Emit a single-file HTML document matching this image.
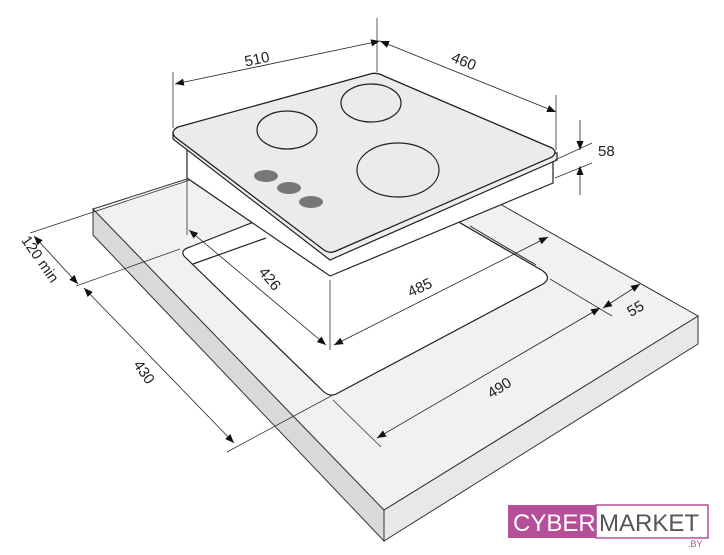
<!DOCTYPE html>
<html><head><meta charset="utf-8"><style>
html,body{margin:0;padding:0;background:#fff;width:724px;height:555px;overflow:hidden}
svg{display:block}
text{font-family:"Liberation Sans",sans-serif;font-size:15px;fill:#222}
</style></head><body>
<svg width="724" height="555" viewBox="0 0 724 555" xmlns="http://www.w3.org/2000/svg">
<defs>
<marker id="a" viewBox="0 0 10 10" refX="10" refY="5" markerWidth="9" markerHeight="9" orient="auto-start-reverse" markerUnits="userSpaceOnUse"><path d="M0,1 L10,5 L0,9z" fill="#111"/></marker>
</defs>
<!-- countertop -->
<polygon points="93,209 93,235 384,541 384,510" fill="#d9d9d9" stroke="#333" stroke-width="1"/>
<polygon points="384,510 384,541 698,344 698,316" fill="#e8e8e8" stroke="#333" stroke-width="1"/>
<polygon points="93,209 190,178 500,204 698,316 384,510" fill="#f1f1f1" stroke="#333" stroke-width="1"/>
<!-- cutout -->
<path d="M190,247 L376,174 L543,271 Q552,278 543,284 L338,393 Q330,398 323,391 L184,256 Q180,250 190,247z" fill="#fff" stroke="#222" stroke-width="1.2"/>
<line x1="193" y1="264" x2="266" y2="238" stroke="#222" stroke-width="1.2"/>
<line x1="470" y1="226" x2="536" y2="265" stroke="#222" stroke-width="1"/>
<!-- hob body -->
<polygon points="187,148 187,178 330,276 553,183 553,153" fill="#fff" stroke="#222" stroke-width="1.2"/>
<!-- hob glass -->
<path d="M173,132 L173,139 L330,260 L557,160 L557,153 z" fill="#eee" stroke="#222" stroke-width="1.2"/>
<path d="M178,127 L370,74 Q377,72 384,76 L552,148 Q558,152 552,157 L336,251 Q330,254 324,250 L175,137 Q170,131 178,127z" fill="#ebebeb" stroke="#222" stroke-width="1.3"/>
<ellipse cx="287" cy="130" rx="30" ry="19" fill="none" stroke="#222" stroke-width="1.2"/>
<ellipse cx="371" cy="103" rx="30" ry="19" fill="none" stroke="#222" stroke-width="1.2"/>
<ellipse cx="398" cy="170" rx="41" ry="27" fill="none" stroke="#222" stroke-width="1.2"/>
<ellipse cx="266" cy="176" rx="12" ry="6" fill="#777"/>
<ellipse cx="289" cy="188" rx="12" ry="6" fill="#777"/>
<ellipse cx="311" cy="202" rx="12" ry="6" fill="#777"/>
<!-- extension lines -->
<g stroke="#333" stroke-width="0.8" fill="none">
<line x1="173" y1="72" x2="173" y2="128"/>
<line x1="377" y1="18" x2="377" y2="72"/>
<line x1="556" y1="95" x2="556" y2="150"/>
<line x1="555" y1="160" x2="592" y2="143"/>
<line x1="555" y1="178" x2="592" y2="163"/>
<line x1="187" y1="178" x2="187" y2="235"/>
<line x1="330" y1="280" x2="330" y2="350"/>
<line x1="30" y1="233" x2="190" y2="180"/>
<line x1="76" y1="286" x2="180" y2="249"/>
<line x1="227" y1="452" x2="333" y2="395"/>
<line x1="333" y1="400" x2="381" y2="447"/>
<line x1="550" y1="279" x2="612" y2="316"/>
</g>
<!-- dimension lines -->
<g stroke="#222" stroke-width="0.8" marker-start="url(#a)" marker-end="url(#a)">
<line x1="175" y1="84" x2="380" y2="41"/>
<line x1="380" y1="41" x2="556" y2="112"/>
<line x1="34" y1="236" x2="78" y2="284"/>
<line x1="84" y1="288" x2="234" y2="443"/>
<line x1="189" y1="230" x2="326" y2="345"/>
<line x1="334" y1="345" x2="548" y2="237"/>
<line x1="377" y1="438" x2="600" y2="308"/>
<line x1="603" y1="308" x2="640" y2="284"/>
</g>
<g stroke="#222" stroke-width="0.8" marker-end="url(#a)">
<line x1="580" y1="120" x2="580" y2="150"/>
<line x1="580" y1="195" x2="580" y2="166"/>
</g>
<!-- labels -->
<text transform="translate(258,64) rotate(-12)" text-anchor="middle">510</text>
<text transform="translate(462,66) rotate(22)" text-anchor="middle">460</text>
<text x="598" y="156">58</text>
<text transform="translate(36,262) rotate(55)" text-anchor="middle">120 min</text>
<text transform="translate(140,375) rotate(55)" text-anchor="middle">430</text>
<text transform="translate(266,282) rotate(50)" text-anchor="middle">426</text>
<text transform="translate(422,292) rotate(-25)" text-anchor="middle">485</text>
<text transform="translate(502,392) rotate(-32)" text-anchor="middle">490</text>
<text transform="translate(638,313) rotate(-30)" text-anchor="middle">55</text>
<!-- logo -->
<rect x="508" y="505" width="88" height="33" fill="#b54f9a"/>
<rect x="596" y="505" width="112" height="33" fill="#fff" stroke="#b54f9a" stroke-width="1.5"/>
<text x="513" y="531" style="font-size:24px;fill:#fff">CYBER</text>
<text x="599" y="531" style="font-size:24px;fill:#555">MARKET</text>
<text x="688" y="547" style="font-size:9px;fill:#b54f9a">.BY</text>
</svg>
</body></html>
